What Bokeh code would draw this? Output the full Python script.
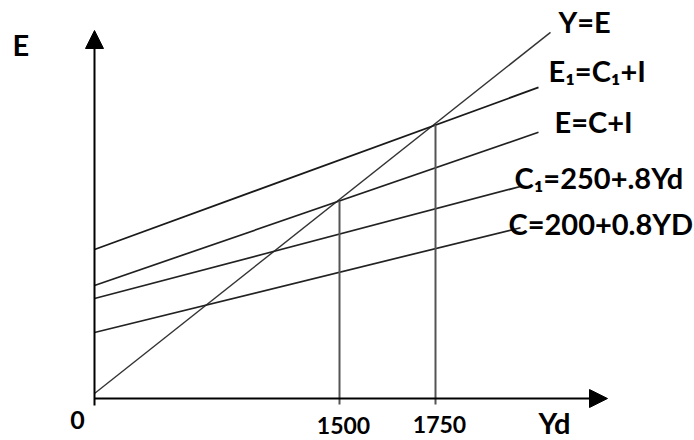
from bokeh.plotting import figure
from bokeh.models import Range1d, Arrow, NormalHead
from bokeh.core.properties import value
from bokeh.embed import file_html
from bokeh.resources import INLINE

# ---- schematic data (diagram units, not to scale) ----
line_names = ["Y=E", "E₁=C₁+I", "E=C+I", "C₁=250+.8Yd", "C=200+0.8YD"]
line_intercepts = [5, 149, 113, 100, 66]
line_slopes = [0.792, 0.365, 0.345, 0.263, 0.246]
line_x_end = [456, 444, 444, 426, 426]

eq_x = [245, 341]                 # schematic positions of equilibrium income
eq_labels = ["1500", "1750"]
eq_line = [2, 1]                  # expenditure line that meets Y=E there

# ---- layout (label anchors relative to each line end, in screen px) ----
label_dx = [8, 10, 16, -6, -12]
label_dy = [-1, 5, -1, -3, -8]
SHIFT = 12  # baseline correction for svg text rendering

FONT = value("Lato")

p = figure(width=694, height=440, output_backend="svg", toolbar_location=None,
           x_axis_type=None, y_axis_type=None, min_border=0,
           x_range=Range1d(-94, 600), y_range=Range1d(-42, 398))
p.outline_line_color = None
p.grid.visible = False
p.background_fill_color = "white"

# lines
x0s, y0s, x1s, y1s = [], [], [], []
for b, m, xe in zip(line_intercepts, line_slopes, line_x_end):
    x0s.append(0); y0s.append(b); x1s.append(xe); y1s.append(b + m * xe)
widths = [1.4, 1.8, 1.7, 1.7, 1.7]
colors = ["#333333", "#1a1a1a", "#202020", "#222222", "#222222"]
p.segment(x0=x0s, y0=y0s, x1=x1s, y1=y1s, line_color=colors, line_width=widths)

# vertical equilibrium lines
vy = [line_intercepts[k] + line_slopes[k] * x for x, k in zip(eq_x, eq_line)]
p.segment(x0=eq_x, y0=[-6] * len(eq_x), x1=eq_x, y1=vy,
          line_color="#555555", line_width=2)

# axes with arrows
p.add_layout(Arrow(end=NormalHead(size=18, fill_color="black", line_color="black"),
                   x_start=0, y_start=-7, x_end=0, y_end=368,
                   line_color="black", line_width=2))
p.add_layout(Arrow(end=NormalHead(size=18, fill_color="black", line_color="black"),
                   x_start=0, y_start=0, x_end=513, y_end=0,
                   line_color="black", line_width=2))

# line labels
lx = [xe + dx for xe, dx in zip(x1s, label_dx)]
ly = [ye + dy + SHIFT for ye, dy in zip(y1s, label_dy)]
p.text(x=lx, y=ly, text=line_names, text_font=FONT, text_font_style="bold",
       text_font_size="29px", text_color="black",
       text_align="left", text_baseline="alphabetic")

# tick labels on Yd axis
p.text(x=[x + 4 for x in eq_x], y=[-39 + SHIFT, -38 + SHIFT], text=eq_labels,
       text_font=FONT, text_font_style="bold", text_font_size="23px",
       text_color="black", text_align="center", text_baseline="alphabetic")
p.text(x=[-17], y=[-33 + SHIFT], text=["0"], text_font=FONT,
       text_font_style="bold", text_font_size="25px", text_color="black",
       text_align="center", text_baseline="alphabetic")

# axis titles
p.text(x=[444], y=[-36 + SHIFT], text=["Yd"], text_font=FONT,
       text_font_style="bold", text_font_size="29px", text_color="black",
       text_align="left", text_baseline="alphabetic")
p.text(x=[-82], y=[342 + SHIFT], text=["E"], text_font=FONT,
       text_font_style="bold", text_font_size="29px", text_color="black",
       text_align="left", text_baseline="alphabetic")

open("out.html", "w").write(file_html(p, INLINE))
